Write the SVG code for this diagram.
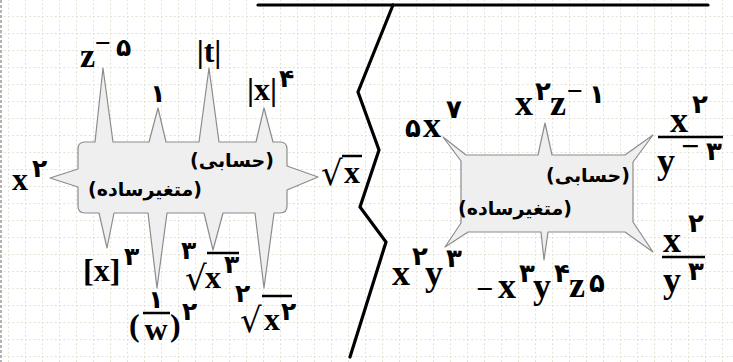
<svg xmlns="http://www.w3.org/2000/svg" width="733" height="362" viewBox="0 0 733 362">
<defs>
<pattern id="grid" x="8" y="16" width="17" height="17" patternUnits="userSpaceOnUse">
<line x1="0" y1="0" x2="17" y2="0" stroke="#e4e2d2" stroke-width="2" stroke-dasharray="2 2.25"/>
<line x1="0" y1="0" x2="0" y2="17" stroke="#e4e2d2" stroke-width="2" stroke-dasharray="2 2.25"/>
</pattern>
<style>
.v{font-family:"Liberation Serif","Times New Roman",serif;font-weight:bold;font-size:32px;fill:#000}
.vr{font-size:36px}
.d{font-family:"DejaVu Sans",sans-serif;font-weight:bold;font-size:25px}
.dr{font-size:26px}
.fa{font-family:"DejaVu Sans",sans-serif;font-weight:bold;font-size:19px;fill:#000}
.rad{font-family:"DejaVu Serif",serif;font-weight:normal;font-size:34px}
.shape{fill:#efefef;stroke:#8c8c8c;stroke-width:1.2;stroke-linejoin:round}
.bar{stroke:#000;stroke-width:2.5}
.div{fill:none;stroke:#000;stroke-width:3.2;stroke-linejoin:miter;stroke-linecap:round}
</style>
</defs>
<rect width="733" height="362" fill="#ffffff"/>
<rect width="733" height="362" fill="url(#grid)"/>
<line x1="1" y1="0" x2="1" y2="362" stroke="#9a9a9a" stroke-width="1.5" stroke-dasharray="3 2"/>

<g id="divider">
<line class="div" x1="258" y1="5" x2="708" y2="5"/>
<polyline class="div" points="393,5 358,92 379,150 360,207 386,242 350,357"/>
</g>

<g id="left-callout">
<path class="shape" d="M85 142 L95 142 L103 68 L113 142 L149 142 L158 108 L166 142 L199 142 L209 68 L219 142 L256 142 L264 108 L273 142 L280 142 Q287 142 287 149 L287 166 L318 177 L287 190 L287 206 Q287 213 280 213 L274 213 L264 288 L255 213 L223 213 L213 250 L204 213 L167 213 L157 288 L148 213 L114 213 L107 248 L99 213 L85 213 Q78 213 78 206 L78 187 L50 178 L78 169 L78 149 Q78 142 85 142 Z"/>
<text class="fa" x="232" y="167" text-anchor="middle">(حسابی)</text>
<text class="fa" x="145" y="196" text-anchor="middle">(متغیرساده)</text>
</g>

<g id="right-callout">
<path class="shape" d="M466 155 L538 155 L545 123 L552 155 L625 155 L653 135 L633 162 L633 222 L653 252 L625 232 L548 232 L544 260 L541 232 L468 232 L445 247 L461 223 L461 161 L443 137 Z"/>
<text class="fa" x="588" y="182" text-anchor="middle">(حسابی)</text>
<text class="fa" x="515" y="215" text-anchor="middle">(متغیرساده)</text>
</g>

<g id="left-terms">
<text id="t-z" class="v"><tspan x="80" y="67" font-size="34">z</tspan><tspan x="95" y="52" font-size="28">−</tspan><tspan class="d" x="116" y="56">۵</tspan></text>
<text id="t-1" class="v" x="158" y="102" text-anchor="middle"><tspan class="d" font-size="38">۱</tspan></text>
<text id="t-t" class="v" x="209" y="62" text-anchor="middle" font-size="35">|t|</text>
<text id="t-absx" class="v"><tspan x="247" y="100">|x|</tspan><tspan class="d" x="279" y="87">۴</tspan></text>
<text id="t-x2" class="v"><tspan x="12" y="190">x</tspan><tspan class="d" x="32" y="177">۲</tspan></text>
<g id="t-sqrtx">
<text class="rad" x="321" y="185">√</text>
<line class="bar" x1="342" y1="156" x2="362" y2="156" stroke-width="2"/>
<text class="v" x="344" y="183">x</text>
</g>
<text id="t-floor" class="v"><tspan x="83" y="281">[x]</tspan><tspan class="d" x="124" y="265">۳</tspan></text>
<g id="t-frac">
<text class="v" x="129" y="336" font-size="42" font-weight="normal">(</text>
<text class="d" x="156" y="308" text-anchor="middle" font-size="22">۱</text>
<line class="bar" x1="143" y1="313" x2="170" y2="313" stroke-width="2"/>
<text class="v" x="156" y="340" text-anchor="middle" font-size="28">w</text>
<text class="v" x="170" y="336" font-size="42" font-weight="normal">)</text>
<text class="d" x="182" y="320">۲</text>
</g>
<g id="t-cbrt">
<text class="d" x="181" y="259" font-size="16">۳</text>
<text class="rad" x="185" y="290" font-size="40">√</text>
<line class="bar" x1="207" y1="253" x2="239" y2="253" stroke-width="2"/>
<text class="v" x="205" y="288">x</text>
<text class="d" x="224" y="273">۳</text>
</g>
<g id="t-sqrt2">
<text class="d" x="235" y="302" font-size="16">۲</text>
<text class="rad" x="240" y="332" font-size="40">√</text>
<line class="bar" x1="262" y1="296" x2="292" y2="296" stroke-width="2"/>
<text class="v" x="264" y="330">x</text>
<text class="d" x="281" y="320" font-size="22">۲</text>
</g>
</g>

<g id="right-terms">
<text id="t-5x7" class="v vr"><tspan class="d dr" x="405" y="137">۵</tspan><tspan x="423" y="137">x</tspan><tspan class="d dr" x="446" y="118">۷</tspan></text>
<text id="t-x2z" class="v vr"><tspan x="515" y="115">x</tspan><tspan class="d dr" x="535" y="100">۲</tspan><tspan x="550" y="115">z</tspan><tspan x="567" y="100" font-size="28">−</tspan><tspan class="d dr" x="589" y="103">۱</tspan></text>
<g id="t-fr1">
<text class="v vr" x="670" y="132">x</text>
<text class="d dr" x="692" y="113">۲</text>
<line class="bar" x1="658" y1="137" x2="723" y2="137" stroke-width="3"/>
<text class="v vr" x="657" y="173">y</text>
<text class="v" x="681" y="157" font-size="28">−</text>
<text class="d dr" x="706" y="160">۳</text>
</g>
<text id="t-x2y3" class="v vr"><tspan x="392" y="285">x</tspan><tspan class="d dr" x="412" y="265">۲</tspan><tspan x="425" y="285">y</tspan><tspan class="d dr" x="446" y="267">۳</tspan></text>
<text id="t-x3y4z5" class="v vr"><tspan x="476" y="299" font-size="30">−</tspan><tspan x="498" y="298">x</tspan><tspan class="d dr" x="519" y="282">۳</tspan><tspan x="533" y="298">y</tspan><tspan class="d dr" x="554" y="282">۴</tspan><tspan x="569" y="297">z</tspan><tspan class="d dr" x="589" y="292">۵</tspan></text>
<g id="t-fr2">
<text class="v vr" x="663" y="252">x</text>
<text class="d dr" x="688" y="232">۲</text>
<line class="bar" x1="662" y1="257" x2="705" y2="257" stroke-width="3"/>
<text class="v vr" x="663" y="292">y</text>
<text class="d dr" x="688" y="280">۳</text>
</g>
</g>
</svg>
